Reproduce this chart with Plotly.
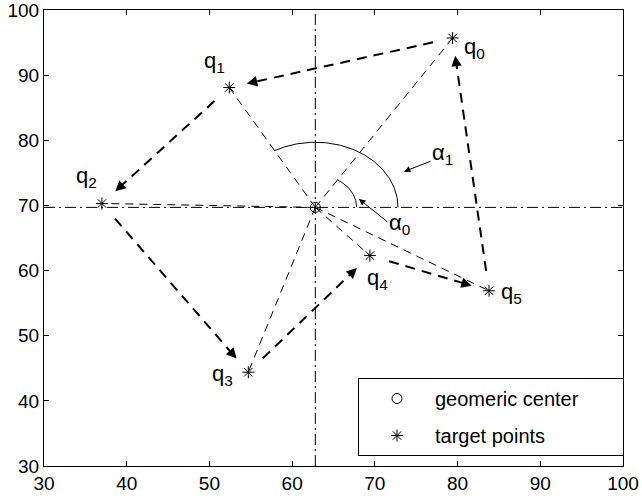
import numpy as np
import plotly.graph_objects as go

# ---------------- data ----------------
point_names = ["0", "1", "2", "3", "4", "5"]
target_x = [79.4, 52.4, 37.0, 54.7, 69.4, 83.8]
target_y = [95.7, 88.1, 70.3, 44.4, 62.3, 56.9]
center_x = [62.8]
center_y = [69.7]
path_order = [0, 1, 2, 3, 4, 5, 0]
alpha0_radius = 5.0
alpha1_radius = 10.0
x_tick_vals = [30, 40, 50, 60, 70, 80, 90, 100]
y_tick_vals = [30, 40, 50, 60, 70, 80, 90, 100]
x_range = [30, 100]
y_range = [30, 100]
legend_names = ["geomeric center", "target points"]

# ---------------- layout constants ----------------
W, H = 642, 499
ML, MR, MT, MB = 44, 19, 10, 33
plot_w = W - ML - MR
plot_h = H - MT - MB
ppx = plot_w / (x_range[1] - x_range[0])
ppy = plot_h / (y_range[1] - y_range[0])
FONT = "Liberation Sans, Arial, Helvetica, sans-serif"
NB = "\u00a0"

fig = go.Figure()

cx, cy = center_x[0], center_y[0]

# dash-dot lines through the centre
for xs, ys in (([cx, cx], y_range), (x_range, [cy, cy])):
    fig.add_trace(go.Scatter(x=xs, y=ys, mode="lines",
                             line=dict(color="black", width=1, dash="11px,4px,2px,4px"),
                             showlegend=False, hoverinfo="skip"))

# thin dashed radial lines centre -> each target
for tx, ty in zip(target_x, target_y):
    fig.add_trace(go.Scatter(x=[cx, tx], y=[cy, ty], mode="lines",
                             line=dict(color="black", width=1, dash="8px,6px"),
                             showlegend=False, hoverinfo="skip"))

# angle arcs
theta0 = np.arctan2(target_y[0] - cy, target_x[0] - cx)
theta1 = np.arctan2(target_y[1] - cy, target_x[1] - cx)
t = np.linspace(0, theta0, 60)
fig.add_trace(go.Scatter(x=cx + alpha0_radius * np.cos(t), y=cy + alpha0_radius * np.sin(t),
                         mode="lines", line=dict(color="black", width=1),
                         showlegend=False, hoverinfo="skip"))
t = np.linspace(0, theta1, 120)
fig.add_trace(go.Scatter(x=cx + alpha1_radius * np.cos(t), y=cy + alpha1_radius * np.sin(t),
                         mode="lines", line=dict(color="black", width=1),
                         showlegend=False, hoverinfo="skip"))

# thick dashed arrows along the path
annotations = []
gap_start, gap_end, head_len = 20.0, 18.0, 10.0
for a, b in zip(path_order[:-1], path_order[1:]):
    ax_p, ay_p = target_x[a] * ppx, target_y[a] * ppy
    bx_p, by_p = target_x[b] * ppx, target_y[b] * ppy
    dx, dy = bx_p - ax_p, by_p - ay_p
    L = np.hypot(dx, dy)
    ux, uy = dx / L, dy / L
    sx, sy = ax_p + ux * gap_start, ay_p + uy * gap_start
    ex, ey = bx_p - ux * gap_end, by_p - uy * gap_end
    lx, ly = ex - ux * 6, ey - uy * 6
    fig.add_trace(go.Scatter(x=[sx / ppx, lx / ppx], y=[sy / ppy, ly / ppy], mode="lines",
                             line=dict(color="black", width=2, dash="10px,7px"),
                             showlegend=False, hoverinfo="skip"))
    annotations.append(dict(x=ex / ppx, y=ey / ppy, ax=-ux * head_len, ay=uy * head_len,
                            xref="x", yref="y", text="", showarrow=True,
                            arrowhead=2, arrowsize=1.3, arrowwidth=1.6, arrowcolor="black",
                            standoff=0))

# centre and target markers
fig.add_trace(go.Scatter(x=center_x, y=center_y, mode="markers",
                         name=legend_names[0] + NB * 7,
                         marker=dict(symbol="circle-open", size=10, color="black",
                                     line=dict(width=1, color="black")),
                         legendgroup="a"))
fig.add_trace(go.Scatter(x=target_x, y=target_y, mode="markers",
                         name=legend_names[1],
                         marker=dict(symbol="asterisk-open", size=10, color="black",
                                     line=dict(width=1, color="black")),
                         legendgroup="b"))

# q labels: offset (px) of the letter's top-left from each point
label_offsets = [(11, 4), (-25, -32), (-26, -32), (-36, -3), (-3, 17), (12, -4)]
for name, tx, ty, (ox, oy) in zip(point_names, target_x, target_y, label_offsets):
    annotations.append(dict(x=tx, y=ty, xref="x", yref="y", text=f"q<sub>{name}</sub>",
                            showarrow=False, xanchor="left", yanchor="top",
                            xshift=ox - 2, yshift=-(oy - 10),
                            font=dict(family=FONT, size=22, color="black")))

# alpha labels and pointer arrows (offsets in px from the centre)
alpha_tips = [(43.6, 8.4), (88.6, 35.7)]
alpha_tails = [(30, 24), (28, -11)]
alpha_text = [(74, 11), (117, -59)]
for i, ((tpx, tpy), (tlx, tly), (txx, txy)) in enumerate(zip(alpha_tips, alpha_tails, alpha_text)):
    annotations.append(dict(x=cx + tpx / ppx, y=cy + tpy / ppy, xref="x", yref="y",
                            ax=tlx, ay=tly, text="", showarrow=True,
                            arrowhead=2, arrowsize=1.3, arrowwidth=1, arrowcolor="black",
                            standoff=0))
    annotations.append(dict(x=cx, y=cy, xref="x", yref="y", text=f"α<sub>{i}</sub>",
                            showarrow=False, xanchor="left", yanchor="top",
                            xshift=txx - 2, yshift=-(txy - 10),
                            font=dict(family=FONT, size=22, color="black")))

axis_common = dict(showgrid=False, zeroline=False, showline=True, linecolor="black",
                   linewidth=1, mirror="ticks", ticks="inside", ticklen=5, tickwidth=1,
                   tickcolor="black", automargin=False, ticklabeloverflow="allow",
                   tickfont=dict(family=FONT, size=19, color="black"))

fig.update_layout(
    width=W, height=H,
    margin=dict(l=ML, r=MR, t=MT, b=MB, autoexpand=False),
    paper_bgcolor="white", plot_bgcolor="white",
    xaxis=dict(range=x_range, tickvals=x_tick_vals, **axis_common),
    yaxis=dict(range=y_range, tickvals=y_tick_vals, **axis_common),
    annotations=annotations,
    legend=dict(x=(358 - ML) / plot_w, y=(H - MB - 378) / plot_h, xanchor="left", yanchor="top",
                bordercolor="black", borderwidth=1, bgcolor="white",
                font=dict(family=FONT, size=20, color="black"),
                itemwidth=66, tracegroupgap=8),
    showlegend=True,
)

fig.write_html("out.html", config={"displayModeBar": False},
               post_script="document.body.style.margin='0';document.body.style.overflow='hidden';")
